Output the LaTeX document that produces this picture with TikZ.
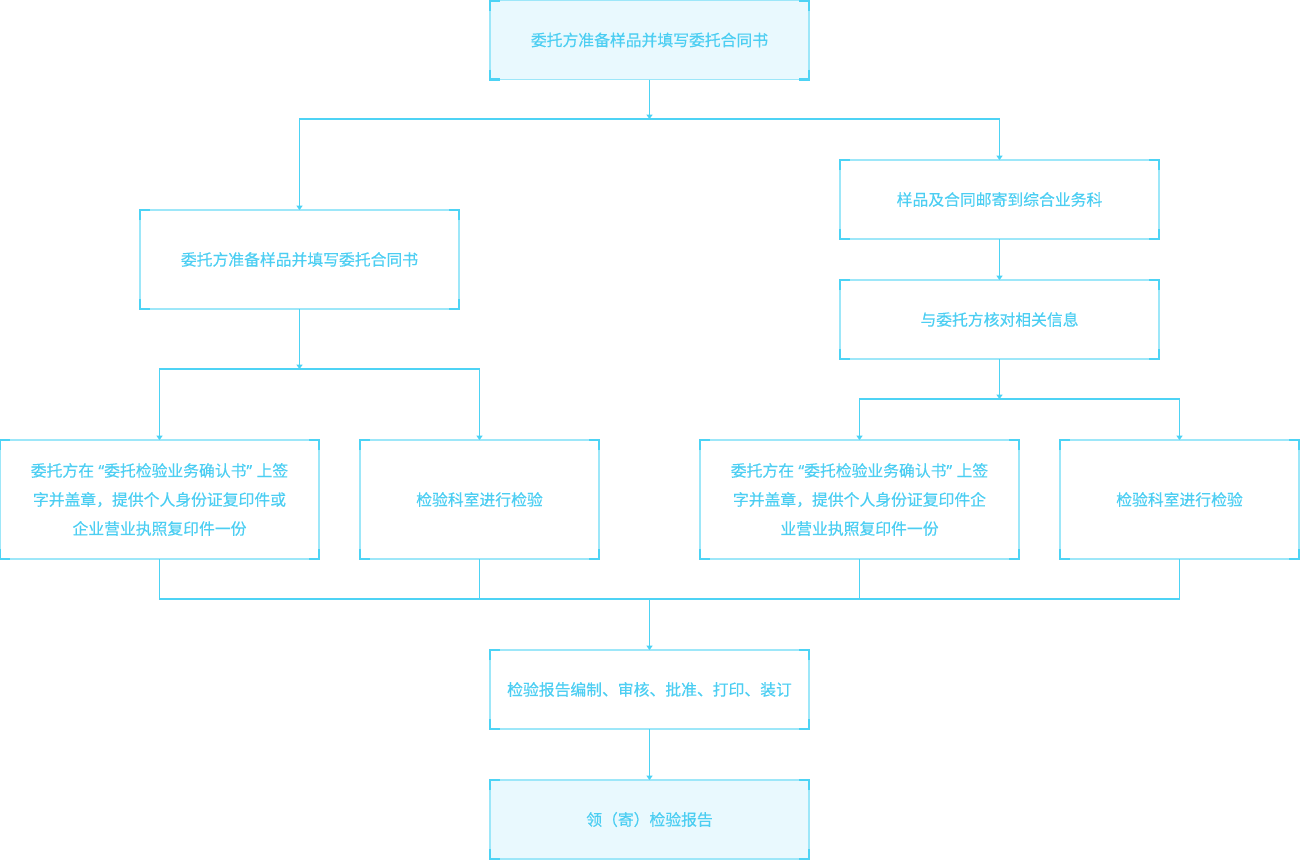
\documentclass[tikz,border=0pt]{standalone}
\usepackage{fontspec}
\setmainfont{Noto Sans CJK SC}[FakeBold=0.4]
\newfontfamily\quotefont{Noto Sans}[FakeBold=0.4]
\usetikzlibrary{arrows.meta}
\definecolor{flowline}{HTML}{4DD3F5}
\definecolor{flowedge}{HTML}{9DE7F9}
\definecolor{flowtext}{HTML}{4CCEF2}
\definecolor{flowfill}{HTML}{E9F9FE}
\newcommand\openq{\kern2.5pt{\quotefont “}}
\newcommand\closeq{{\quotefont ”}\kern2.5pt}
\newcommand\corners[1]{%
  \draw[bracket] ([yshift=-0.2cm]#1.north west) -- (#1.north west) -- ([xshift=0.2cm]#1.north west);
  \draw[bracket] ([yshift=-0.2cm]#1.north east) -- (#1.north east) -- ([xshift=-0.2cm]#1.north east);
  \draw[bracket] ([yshift=0.2cm]#1.south west) -- (#1.south west) -- ([xshift=0.2cm]#1.south west);
  \draw[bracket] ([yshift=0.2cm]#1.south east) -- (#1.south east) -- ([xshift=-0.2cm]#1.south east);}
\begin{document}
\begin{tikzpicture}[
    box/.style={draw=flowedge, line width=0.6pt, text=flowtext, font=\fontsize{9}{16.5}\selectfont,
      align=center, minimum width=6.38cm, minimum height=1.58cm, inner sep=0pt, outer sep=0pt},
    shaded/.style={box, fill=flowfill},
    tall/.style={minimum height=2.38cm},
    narrow/.style={minimum width=4.78cm},
    link/.style={draw=flowline, line width=0.6pt, -{Triangle[width=3.5pt,length=2.5pt]}},
    plain/.style={draw=flowline, line width=0.6pt},
    bracket/.style={draw=flowline, line width=1.2pt}
  ]
  \useasboundingbox (0,0) rectangle (26,-17.2);

  \node[shaded] (entrust) at (12.99,-0.80) {委托方准备样品并填写委托合同书};
  \node[box, minimum height=1.98cm] (prepare) at (5.99,-5.19) {委托方准备样品并填写委托合同书};
  \node[box] (mail) at (19.99,-3.99) {样品及合同邮寄到综合业务科};
  \node[box] (verify) at (19.99,-6.39) {与委托方核对相关信息};
  \node[box, tall] (signa) at (3.19,-9.99) {委托方在\openq 委托检验业务确认书\closeq 上签\\字并盖章，提供个人身份证复印件或\\企业营业执照复印件一份};
  \node[box, tall, narrow] (testa) at (9.59,-9.99) {检验科室进行检验};
  \node[box, tall] (signb) at (17.19,-9.99) {委托方在\openq 委托检验业务确认书\closeq 上签\\字并盖章，提供个人身份证复印件企\\业营业执照复印件一份};
  \node[box, tall, narrow] (testb) at (23.59,-9.99) {检验科室进行检验};
  \node[box] (report) at (12.99,-13.79) {检验报告编制、审核、批准、打印、装订};
  \node[shaded] (collect) at (12.99,-16.39) {领（寄）检验报告};

  \foreach \n in {entrust,prepare,mail,verify,signa,testa,signb,testb,report,collect}
    \corners{\n};

  \coordinate (split) at (12.99,-2.38);
  \coordinate (splitl) at (5.99,-7.38);
  \coordinate (splitr) at (19.99,-7.98);
  \coordinate (merge) at (12.99,-11.98);

  \draw[link] (entrust) -- (split);
  \draw[link] (split) -| (prepare);
  \draw[link] (split) -| (mail);
  \draw[link] (mail) -- (verify);
  \draw[link] (prepare) -- (splitl);
  \draw[link] (splitl) -| (signa);
  \draw[link] (splitl) -| (testa);
  \draw[link] (verify) -- (splitr);
  \draw[link] (splitr) -| (signb);
  \draw[link] (splitr) -| (testb);
  \draw[plain] (signa) |- (merge);
  \draw[plain] (testa) |- (merge);
  \draw[plain] (signb) |- (merge);
  \draw[plain] (testb) |- (merge);
  \draw[link] (merge) -- (report);
  \draw[link] (report) -- (collect);
\end{tikzpicture}
\end{document}
